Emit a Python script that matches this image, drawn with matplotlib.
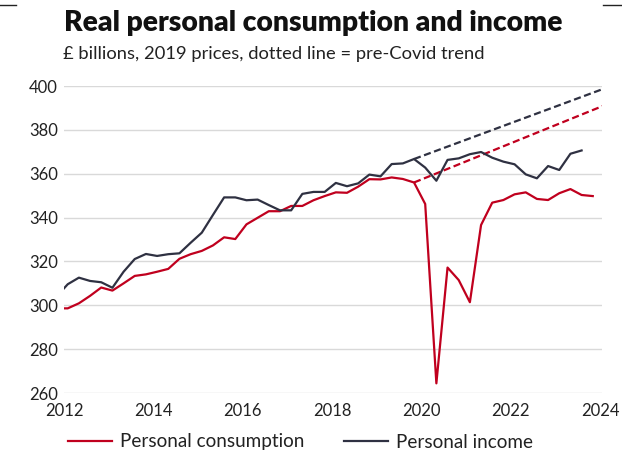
import numpy as np
import matplotlib.pyplot as plt
from matplotlib.lines import Line2D

plt.rcParams['font.family'] = ['Lato', 'DejaVu Sans']

# quarterly data, Q4 2011 .. Q4 2023 (first point lies just left of the axis)
years = [2011] + [y for y in range(2012, 2024) for _ in range(4)]
mid_month = [11] + [2, 5, 8, 11] * 12

consumption = [298.6,
               298.6, 300.9, 304.3, 308.1, 306.7, 310.0, 313.4, 314.1,
               315.3, 316.6, 321.2, 323.3, 324.8, 327.3, 331.0, 330.2,
               336.9, 339.9, 342.9, 342.9, 345.3, 345.3, 347.9, 349.8,
               351.5, 351.3, 354.1, 357.5, 357.4, 358.3, 357.6, 356.0,
               346.2, 264.4, 317.2, 311.5, 301.4, 336.6, 346.8, 348.0,
               350.6, 351.5, 348.5, 348.0, 351.1, 353.0, 350.3, 349.8]

income = [304.0,
          309.6, 312.6, 311.1, 310.5, 308.0, 315.3, 321.1, 323.4,
          322.5, 323.3, 323.7, 328.5, 333.1, 341.2, 349.2, 349.2,
          347.9, 348.2, 345.7, 343.3, 343.3, 350.8, 351.7, 351.7,
          355.8, 354.3, 355.6, 359.6, 358.8, 364.4, 364.7, 366.7,
          362.8, 356.8, 366.3, 367.0, 368.9, 369.9, 367.3, 365.5,
          364.3, 359.7, 357.9, 363.5, 361.7, 369.1, 370.6]

# pre-Covid trend, Q4 2019 -> Q1 2024
trend_dates = [(2019, 11), (2024, 2)]
cons_trend = [356.0, 391.1]
inc_trend = [366.7, 398.8]

yticks = [260, 280, 300, 320, 340, 360, 380, 400]
xticks = [2012, 2014, 2016, 2018, 2020, 2022, 2024]

red = '#c0001e'
navy = '#2f3142'


def to_x(y, m):
    return y + (m - 1) / 12


x = np.array([to_x(y, m) for y, m in zip(years, mid_month)])
x_cons = x[:len(consumption)]
x_inc = x[:len(income)]
x_trend = [to_x(y, m) for y, m in trend_dates]

fig = plt.figure(figsize=(6.22, 4.5), dpi=100)
ax = fig.add_axes([64 / 622, 1 - 393 / 450, 538 / 622, 307 / 450])

ax.plot(x_trend, inc_trend, color=navy, lw=1.6, dashes=(3.2, 1.6))
ax.plot(x_trend, cons_trend, color=red, lw=1.6, dashes=(3.2, 1.6))
ax.plot(x_cons, consumption, color=red, lw=1.6, label='Personal consumption')
ax.plot(x_inc, income, color=navy, lw=1.6, label='Personal income')

ax.set_xlim(2012, 2024.04)
ax.set_ylim(260, 400)
ax.set_yticks(yticks)
ax.set_xticks(xticks)
ax.grid(axis='y', color='#d9d9d9', lw=1)
ax.set_axisbelow(True)
for s in ax.spines.values():
    s.set_visible(False)
ax.tick_params(length=0, labelsize=12, colors='#222222')
ax.tick_params(axis='y', pad=4.5)
ax.tick_params(axis='x', pad=7)

fig.text(64 / 622, 1 - 31 / 450, 'Real personal consumption and income',
         fontsize=20.3, fontweight='heavy', color='#111111', va='baseline')
fig.text(63 / 622, 1 - 59.5 / 450,
         '£ billions, 2019 prices, dotted line = pre-Covid trend',
         fontsize=13.2, color='#222222', va='baseline')

fig.legend(loc='center left', bbox_to_anchor=(68 / 622, 1 - 442 / 450),
           ncol=2, frameon=False, fontsize=13.6, handlelength=2.33,
           handletextpad=0.42, columnspacing=2.1, borderpad=0,
           borderaxespad=0, labelcolor='#222222')

# thin rule at the very top
fig.add_artist(Line2D([0, 16 / 622], [1 - 5 / 450] * 2, color='#222222', lw=1))
fig.add_artist(Line2D([603 / 622, 1], [1 - 5 / 450] * 2, color='#222222', lw=1))

fig.savefig('out.png', dpi=100)
